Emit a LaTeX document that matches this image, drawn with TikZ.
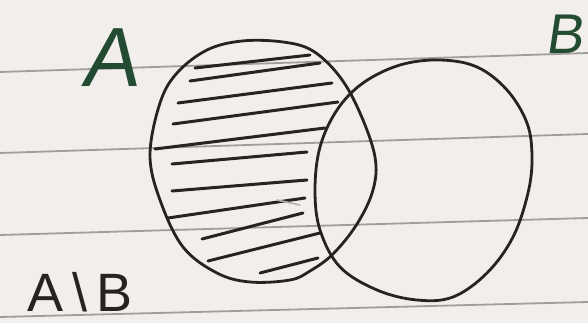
\documentclass[tikz,border=0pt]{standalone}
\usepackage{fontspec}
\setmainfont{Liberation Sans}
\newfontfamily\handA[FakeSlant=0.15]{Liberation Sans}
\definecolor{paper}{RGB}{242,238,235}
\definecolor{rule}{RGB}{160,158,155}
\definecolor{ink}{RGB}{38,36,35}
\definecolor{greenink}{RGB}{35,75,50}
\tikzset{
  paperline/.style={draw=rule,line width=1.8pt},
  setline/.style={draw=ink,line width=2.8pt},
  hatch/.style={draw=ink,line width=3pt,line cap=round},
  faint/.style={draw=ink!35,line width=1.6pt,line cap=round},
  setlabel/.style={text=greenink,inner sep=0pt,font=\handA\fontsize{84}{84}\selectfont},
  diflabel/.style={text=ink,inner sep=0pt,font=\fontsize{54}{54}\selectfont}
}
\begin{document}
\begin{tikzpicture}[x=1pt,y=-1pt]
\useasboundingbox (0,0) rectangle (588,323);
\fill[paper] (0,0) rectangle (588,323);
% ruled lines
\draw[paperline] (0,72) -- (588,53);
\draw[paperline] (0,153) -- (588,134);
\draw[paperline] (0,235) -- (588,218);
\draw[paperline] (0,317) -- (588,302);
% hatching of A \ B
\draw[hatch] (195,68) -- (310,55);
\draw[hatch] (190,81) -- (320,63);
\draw[hatch] (178,103) -- (332,83);
\draw[hatch] (173,124) -- (338,102);
\draw[hatch] (155,149) -- (325,128);
\draw[hatch] (172,164) -- (307,152);
\draw[hatch] (172,191) -- (307,180);
\draw[hatch] (168,218) -- (305,198);
\draw[hatch] (202,239) -- (303,213);
\draw[hatch] (208,261) -- (320,233);
\draw[hatch] (260,273) -- (318,258);
\draw[faint] (277,200) -- (300,205);
% set A
\draw[setline] plot[smooth cycle,tension=0.6] coordinates {
  (283,42) (313,51) (340,77) (360,113) (375,157) (373,190) (357,224)
  (333,254) (310,271) (290,280) (250,282) (217,273) (183,247)
  (160,200) (150,155) (160,103) (177,73) (207,50) (242,41)};
% set B
\draw[setline] plot[smooth cycle,tension=0.6] coordinates {
  (440,60) (477,67) (507,90) (527,123) (532,157) (528,193) (513,237)
  (487,273) (453,297) (417,300) (377,290) (340,267) (320,230)
  (315,190) (320,147) (337,110) (363,83) (400,65)};
% labels
\node[setlabel] (labA) at (110,58) {A};
\node[setlabel,font=\handA\fontsize{56}{56}\selectfont] (labB) at (564,34) {B};
\node[diflabel] (labAB) at (80,292) {A\,\textbackslash\,B};
\end{tikzpicture}
\end{document}
